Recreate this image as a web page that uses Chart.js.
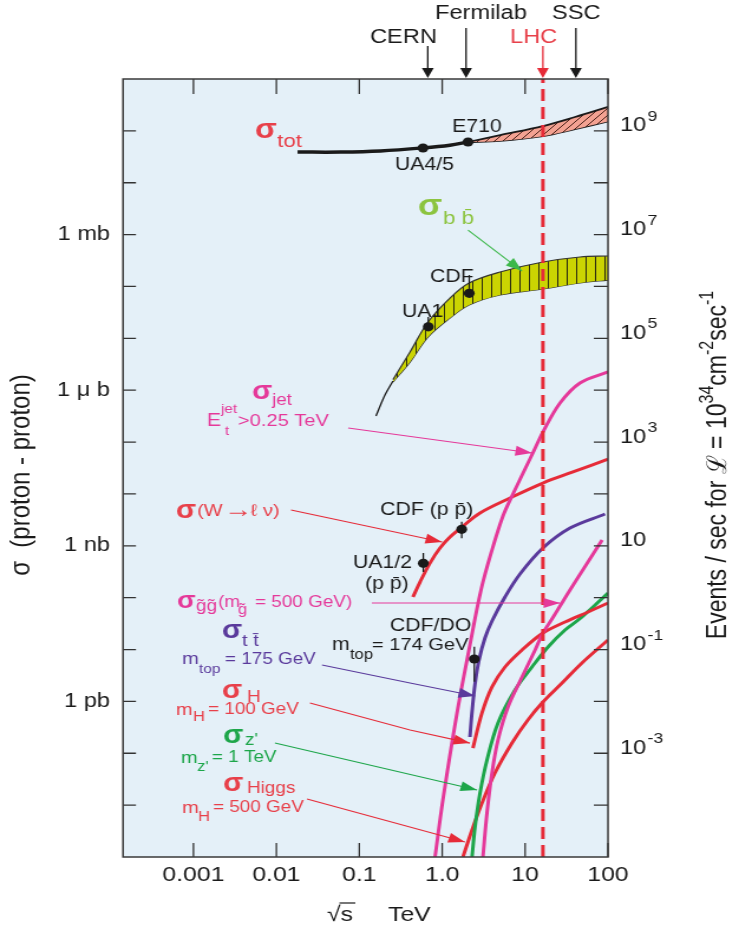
<!DOCTYPE html>
<html>
<head>
<meta charset="utf-8">
<title>Proton-proton cross sections</title>
<script src="https://cdn.jsdelivr.net/npm/chart.js@4.4.0/dist/chart.umd.min.js"></script>
<style>
  html, body { margin: 0; padding: 0; background: #fff; }
  #chart { display: block; }
</style>
</head>
<body>
<!-- the original figure is stretched sideways, so the canvas is drawn narrow and widened by css -->
<canvas id="chart" width="626" height="934" style="width:739px;height:934px"></canvas>
<script>
// energies in TeV, cross sections in nb
const xTickValues = [0.001, 0.01, 0.1, 1, 10, 100];
const xTickLabels = ['0.001', '0.01', '0.1', '1.0', '10', '100'];
const yTickValues = [1e6, 1e3, 1, 1e-3];
const yTickLabels = ['1 mb', '1 \u03bc b', '1 nb', '1 pb'];
// right axis: events / sec for L = 1e34 cm^-2 s^-1 -> 10 events per nb
const eventsPerNb = 10;
const rateTickValues = [1e8, 1e6, 1e4, 1e2, 1, 1e-2, 1e-4];

const totE = [0.018, 0.06, 0.18, 0.59, 1.24, 2.05];
const totSigma = [3.9e7, 3.9e7, 4.1e7, 4.7e7, 5.3e7, 6.1e7];
const totBandE = [2.05, 5.0, 16.4, 40, 100];
const totHigh = [6.1e7, 8.3e7, 1.24e8, 1.85e8, 2.9e8];
const totLow = [6.1e7, 6.4e7, 7.9e7, 1.08e8, 1.52e8];

const bbTailE = [0.159, 0.204, 0.255];
const bbTail = [318, 808, 1500];
const bbBandE = [0.255, 0.409, 0.674, 1.24, 2.11, 4.98, 16.4, 45.9, 100];
const bbHigh = [1600, 5450, 2.06e4, 5.98e4, 1.17e5, 1.9e5, 2.96e5, 3.7e5, 3.87e5];
const bbLow = [1440, 3490, 1.06e4, 2.46e4, 4.39e4, 6.84e4, 8.93e4, 1.17e5, 1.33e5];

const jetE = [0.82, 1.02, 1.51, 2.16, 2.94, 3.99, 5.41, 6.95, 12.4, 16.4, 26.4, 45.9, 100];
const jetSigma = [1e-6, 1.26e-5, 6.0e-4, 0.0122, 0.141, 0.83, 3.75, 9.1, 61.5, 156, 566, 1380, 2250];

const gluinoE = [3.1, 3.47, 3.99, 4.71, 6.22, 9.18, 13.2, 16.4, 21.1, 26.4, 34.8, 54.3, 84.9];
const gluinoSigma = [1e-6, 7.1e-6, 4.2e-5, 1.8e-4, 7.8e-4, 2.95e-3, 9.8e-3, 0.0208, 0.0388, 0.069, 0.141, 0.426, 1.29];

const wE = [0.444, 0.54, 0.712, 0.941, 1.242, 1.733, 2.86, 6.58, 16.4, 37.8, 100];
const wSigma = [0.103, 0.200, 0.464, 0.907, 1.48, 2.30, 4.29, 8.34, 16.2, 26.5, 47.1];

const ttE = [2.16, 2.29, 2.49, 2.78, 3.28, 3.99, 5.72, 8.68, 16.4, 34.8, 92];
const ttSigma = [2.06e-4, 6.25e-4, 2.17e-3, 6.28e-3, 0.0167, 0.0355, 0.103, 0.286, 0.907, 2.2, 4.1];

const h100E = [2.35, 3.02, 3.99, 5.72, 9.18, 16.4, 30.3, 57.3, 100];
const h100Sigma = [1.26e-4, 5.98e-4, 1.9e-3, 4.6e-3, 9.8e-3, 0.0208, 0.034, 0.053, 0.0789];

const zPrimeE = [2.29, 2.49, 2.86, 3.47, 4.71, 7.55, 12.1, 18.9, 30.3, 48.5, 100];
const zPrimeSigma = [1e-6, 3.79e-6, 1.71e-5, 7.42e-5, 3.83e-4, 1.66e-3, 4.6e-3, 0.0112, 0.0238, 0.0424, 0.123];

const h500E = [1.78, 2.29, 3.02, 4.33, 6.95, 10.8, 16.4, 27.9, 48.5, 100];
const h500Sigma = [1e-6, 3.32e-6, 1.1e-5, 4.17e-5, 1.58e-4, 4.38e-4, 9.74e-4, 2.26e-3, 5.5e-3, 0.0153];

// measurements: UA4/5, E710, UA1 (bb), CDF (bb), UA1/2 (W), CDF (W), CDF/D0 (tt)
const dotE = [0.587, 2.05, 0.68, 2.12, 0.592, 1.72, 2.44];
const dotSigma = [4.67e7, 6.1e7, 1.67e4, 7.38e4, 0.46, 2.08, 6.57e-3];
const dotErrHigh = [null, null, 2.57e4, 1.66e5, 0.726, 2.92, 0.01135];
const dotErrLow = [null, null, 1.67e4, 7.38e4, 0.313, 1.40, 2.4e-3];

const lhcEnergy = 16.4;
const machineNames = ['CERN', 'Fermilab', 'LHC', 'SSC'];
const machineEnergies = [0.67, 1.94, 16.4, 41];

const S = 739 / 626;
const INK = '#1a1a1a';
const RED = '#e62b38';
const RED_T = '#e8404a';
const PINK = '#e5399a';
const PURPLE = '#5a3a9c';
const GREEN = '#1da64a';
const LIME = '#8cc43f';
const PLOT_BG = '#e4f0f8';

const canvas = document.getElementById('chart');
const ctx = canvas.getContext('2d');
Chart.defaults.font.family = '"Liberation Sans", Arial, sans-serif';
Chart.defaults.color = INK;

function font(size, bold) { return (bold ? 'bold ' : '') + size + 'px "Liberation Sans", Arial, sans-serif'; }
function pts(xs, ys) { return xs.map((x, i) => ({ x, y: ys[i] })); }

function makePattern(bg, ink, w, h, draw) {
  const c = document.createElement('canvas');
  c.width = w; c.height = h;
  const g = c.getContext('2d');
  g.fillStyle = bg; g.fillRect(0, 0, w, h);
  g.strokeStyle = ink; g.lineWidth = 1;
  draw(g, w, h);
  return ctx.createPattern(c, 'repeat');
}
const totHatch = makePattern('#f3a292', '#4a2018', 7, 7, (g, w, h) => {
  g.beginPath();
  g.moveTo(0, h); g.lineTo(w, 0);
  g.moveTo(-1, 1); g.lineTo(1, -1);
  g.moveTo(w - 1, h + 1); g.lineTo(w + 1, h - 1);
  g.stroke();
});
const bbHatch = makePattern('#cbd402', '#2a2a10', 8, 4, (g, w, h) => {
  g.beginPath(); g.moveTo(0.5, 0); g.lineTo(0.5, h); g.stroke();
});

function curve(data, color, width, extra) {
  return Object.assign({
    data, borderColor: color, borderWidth: width, pointRadius: 0, pointHitRadius: 0,
    tension: 0.35, fill: false, clip: 0
  }, extra || {});
}

// text labels, left aligned, [text, x, y middle, size, colour] in figure pixels
const notes = [
  ['CERN', 370, 37, 20, INK],
  ['Fermilab', 435, 13, 20, INK],
  ['LHC', 510, 37, 20, RED_T],
  ['SSC', 552, 13, 20, INK],
  ['\u03c3', 255, 131, 27, RED_T], ['tot', 277, 142, 19, RED_T],
  ['E710', 452, 127, 18, INK], ['UA4/5', 395, 165, 18, INK],
  ['\u03c3', 418, 207, 30, LIME], ['b b\u0304', 443, 219, 19, LIME],
  ['CDF', 430, 277, 18, INK], ['UA1', 402, 312, 18, INK],
  ['\u03c3', 252, 392, 25, PINK], ['jet', 272, 401, 16, PINK],
  ['E', 207, 421, 18, PINK], ['jet', 221, 409, 13, PINK], ['t', 225, 431, 13, PINK],
  ['>0.25 TeV', 238, 421, 17, PINK],
  ['\u03c3', 176, 511, 25, RED_T], ['(W', 197, 511, 17, RED_T], ['\u2192', 224, 510, 24, RED_T],
  ['\u2113 \u03bd)', 251, 511, 17, RED_T],
  ['CDF (p p\u0304)', 380, 510, 18, INK],
  ['UA1/2', 353, 563, 18, INK], ['(p p\u0304)', 365, 584, 18, INK],
  ['CDF/DO', 390, 626, 18, INK],
  ['m', 332, 645, 18, INK], ['top', 350, 655, 14, INK], ['= 174 GeV', 372, 645, 17, INK],
  ['\u03c3', 177, 602, 23, PINK], ['g\u0303g\u0303', 196, 607, 16, PINK], ['(m', 218, 603, 16, PINK],
  ['g\u0303', 238, 610, 14, PINK], ['= 500 GeV)', 255, 603, 16, PINK],
  ['\u03c3', 222, 631, 25, PURPLE], ['t t\u0304', 242, 641, 17, PURPLE],
  ['m', 182, 659, 17, PURPLE], ['top', 199, 669, 13, PURPLE], ['= 175 GeV', 225, 660, 16, PURPLE],
  ['\u03c3', 222, 691, 25, RED_T], ['H', 247, 698, 16, RED_T],
  ['m', 176, 710, 17, RED_T], ['H', 193, 717, 14, RED_T], ['= 100 GeV', 208, 710, 16, RED_T],
  ['\u03c3', 223, 736, 25, GREEN], ["z'", 245, 741, 16, GREEN],
  ['m', 181, 758, 17, GREEN], ["z'", 197, 767, 14, GREEN], ['= 1 TeV', 212, 758, 16, GREEN],
  ['\u03c3', 223, 784, 25, RED_T], ['Higgs', 247, 789, 16, RED_T],
  ['m', 182, 808, 17, RED_T], ['H', 198, 817, 14, RED_T], ['= 500 GeV', 213, 808, 16, RED_T]
];

// pointer arrows in data coordinates [TeV, nb], last point is the tip
const pointers = [
  { color: PINK, path: [[0.0734, 187], [12.1, 61.5]] },
  { color: RED, path: [[0.015, 4.9], [0.995, 1.18]] },
  { color: PINK, path: [[0.142, 0.0789], [26.4, 0.0789]] },
  { color: PURPLE, path: [[0.0355, 5.04e-3], [0.409, 2.26e-3], [2.49, 1.27e-3]] },
  { color: RED, path: [[0.0254, 9.3e-4], [0.409, 2.81e-4], [2.16, 1.57e-4]] },
  { color: GREEN, path: [[9.6e-3, 1.58e-4], [2.63, 1.96e-5]] },
  { color: RED, path: [[0.0234, 1.31e-5], [1.88, 1.95e-6]] },
  { color: '#3cb84a', path: [[2.05, 1.22e6], [9.18, 1.98e5]] }
];

function arrowHead(c, tx, ty, fx, fy, len, half) {
  const a = Math.atan2(ty - fy, tx - fx);
  c.beginPath();
  c.moveTo(tx, ty);
  c.lineTo(tx - len * Math.cos(a) + half * Math.sin(a), ty - len * Math.sin(a) - half * Math.cos(a));
  c.lineTo(tx - len * Math.cos(a) - half * Math.sin(a), ty - len * Math.sin(a) + half * Math.cos(a));
  c.closePath();
  c.fill();
}

function vtext(c, parts, cx, cy) {
  c.save();
  c.translate(cx, cy);
  c.rotate(-Math.PI / 2);
  c.textAlign = 'left';
  c.textBaseline = 'middle';
  let total = 0;
  parts.forEach(p => { c.font = font(p[1]); total += c.measureText(p[0]).width; });
  let x = -total / 2;
  parts.forEach(p => {
    c.font = font(p[1]);
    c.fillText(p[0], x, -p[2]);
    x += c.measureText(p[0]).width;
  });
  c.restore();
}

const decorations = {
  id: 'decorations',
  beforeDraw(chart) {
    const { ctx: c, chartArea: a } = chart;
    c.save();
    c.fillStyle = '#fff';
    c.fillRect(0, 0, chart.width, chart.height);
    c.fillStyle = PLOT_BG;
    c.fillRect(a.left, a.top, a.right - a.left, a.bottom - a.top);
    c.restore();
  },
  afterDatasetsDraw(chart) {
    const { ctx: c, chartArea: a, scales: { x, y } } = chart;
    c.save();
    // error bars
    c.strokeStyle = INK;
    c.lineWidth = 1.3;
    dotE.forEach((e, i) => {
      if (dotErrHigh[i] == null) return;
      const px = x.getPixelForValue(e);
      c.beginPath();
      c.moveTo(px, y.getPixelForValue(dotErrHigh[i]));
      c.lineTo(px, y.getPixelForValue(dotErrLow[i]));
      c.stroke();
    });
    // ticks inside the frame
    c.strokeStyle = '#333';
    c.lineWidth = 1.3;
    c.beginPath();
    for (let p = -5; p <= 8; p++) {
      const py = y.getPixelForValue(Math.pow(10, p));
      c.moveTo(a.left, py); c.lineTo(a.left + 11, py);
      c.moveTo(a.right, py); c.lineTo(a.right - 12, py);
    }
    xTickValues.forEach(v => {
      const px = x.getPixelForValue(v);
      c.moveTo(px, a.bottom); c.lineTo(px, a.bottom - 14);
      c.moveTo(px, a.top); c.lineTo(px, a.top + 15);
    });
    c.stroke();
    c.strokeStyle = '#3a3a3a';
    c.lineWidth = 1.5;
    c.strokeRect(a.left, a.top, a.right - a.left, a.bottom - a.top);
    c.restore();
  },
  afterDraw(chart) {
    const { ctx: c, chartArea: a, scales: { x, y } } = chart;
    c.save();
    // pointer arrows
    pointers.forEach(p => {
      const px = p.path.map(q => [x.getPixelForValue(q[0]), y.getPixelForValue(q[1])]);
      c.strokeStyle = p.color;
      c.fillStyle = p.color;
      c.lineWidth = 1.1;
      c.beginPath();
      c.moveTo(px[0][0], px[0][1]);
      px.slice(1).forEach(q => c.lineTo(q[0], q[1]));
      c.stroke();
      const t = px[px.length - 1], f = px[px.length - 2];
      arrowHead(c, t[0], t[1], f[0], f[1], 14, 5);
    });
    // machines above the frame
    machineNames.forEach((name, i) => {
      const px = x.getPixelForValue(machineEnergies[i]);
      const col = name === 'LHC' ? RED : INK;
      const top = (i % 2 === 0) ? 46 : 28;
      c.strokeStyle = col;
      c.fillStyle = col;
      c.lineWidth = 1.3;
      c.beginPath(); c.moveTo(px, top); c.lineTo(px, a.top - 6); c.stroke();
      arrowHead(c, px, a.top - 1, px, top, 10, 5);
    });
    // text labels; the sigma signs are heavier in the original
    c.textAlign = 'left';
    c.textBaseline = 'middle';
    notes.forEach(n => {
      c.font = font(n[3], n[0] === '\u03c3');
      c.fillStyle = n[4];
      c.fillText(n[0], n[1] / S, n[2]);
    });
    // right axis labels
    c.fillStyle = INK;
    rateTickValues.forEach(v => {
      const e = Math.round(Math.log10(v * eventsPerNb));
      const py = y.getPixelForValue(v) - 5;
      const x0 = 620 / S;
      c.font = font(20);
      c.fillText('10', x0, py);
      if (e !== 1) {
        const w = c.measureText('10').width;
        c.font = font(15);
        c.fillText(String(e), x0 + w + 1, py - 9);
      }
    });
    // axis titles
    vtext(c, [['\u03c3  (proton - proton)', 24, 0]], 22 / S, 475);
    vtext(c, [
      ['Events / sec for ', 23, 0], ['\u2112', 23, 0], [' = 10', 23, 0], ['34', 16, 9],
      ['cm', 23, 0], ['-2', 16, 9], ['sec', 23, 0], ['-1', 16, 9]
    ], 718 / S, 465);
    c.font = font(21);
    c.fillStyle = INK;
    const rx = 327 / S, ty = 915;
    c.fillText('\u221a', rx, ty);
    const rw = c.measureText('\u221a').width;
    c.fillText('s', rx + rw, ty);
    const sw = c.measureText('s').width;
    c.strokeStyle = INK;
    c.lineWidth = 1.2;
    c.beginPath(); c.moveTo(rx + rw - 1, ty - 12); c.lineTo(rx + rw + sw + 2, ty - 12); c.stroke();
    c.fillText('TeV', 388 / S, ty);
    c.restore();
  }
};

const chart = new Chart(ctx, {
  type: 'line',
  data: {
    datasets: [
      curve(pts(dotE, dotSigma), INK, 0, {
        showLine: false, pointRadius: 4.6, pointBackgroundColor: INK, pointBorderColor: INK,
        pointBorderWidth: 0, clip: false
      }),
      curve([{ x: lhcEnergy, y: 1e-6 }, { x: lhcEnergy, y: 1e9 }], RED, 3, { borderDash: [12, 6], tension: 0 }),
      curve(pts(jetE, jetSigma), PINK, 3),
      curve(pts(gluinoE, gluinoSigma), PINK, 3),
      curve(pts(wE, wSigma), RED, 3),
      curve(pts(ttE, ttSigma), PURPLE, 3),
      curve(pts(h100E, h100Sigma), RED, 3),
      curve(pts(zPrimeE, zPrimeSigma), GREEN, 3),
      curve(pts(h500E, h500Sigma), RED, 3),
      curve(pts(totE, totSigma), INK, 3.5),
      curve(pts(bbTailE, bbTail), INK, 1.3),
      curve(pts(totBandE, totHigh), INK, 1.8, { fill: '+1', backgroundColor: totHatch }),
      curve(pts(totBandE, totLow), INK, 1.8),
      curve(pts(bbBandE, bbHigh), '#333', 1.2, { fill: '+1', backgroundColor: bbHatch }),
      curve(pts(bbBandE, bbLow), '#333', 1.2)
    ]
  },
  options: {
    responsive: false,
    animation: false,
    events: [],
    layout: { padding: { top: 79, right: 626 - 608 / S, left: 0, bottom: 0 } },
    plugins: { legend: { display: false }, tooltip: { enabled: false } },
    scales: {
      x: {
        type: 'logarithmic',
        min: Math.pow(10, -3.85),
        max: 100,
        bounds: 'data',
        grid: { display: false, drawTicks: false },
        border: { display: false },
        afterBuildTicks: s => { s.ticks = xTickValues.map(v => ({ value: v })); },
        afterFit: s => { s.height = 77; },
        ticks: {
          callback: (v, i) => xTickLabels[i],
          autoSkip: false, maxRotation: 0, padding: 6,
          font: { size: 21 }, color: INK
        }
      },
      y: {
        type: 'logarithmic',
        min: 1e-6,
        max: 1e9,
        bounds: 'data',
        grid: { display: false, drawTicks: false },
        border: { display: false },
        afterBuildTicks: s => { s.ticks = yTickValues.map(v => ({ value: v })); },
        afterFit: s => { s.width = 123 / S; },
        ticks: {
          callback: (v, i) => yTickLabels[i],
          autoSkip: false, padding: 11,
          font: { size: 20 }, color: INK
        }
      }
    }
  },
  plugins: [decorations]
});
</script>
</body>
</html>
